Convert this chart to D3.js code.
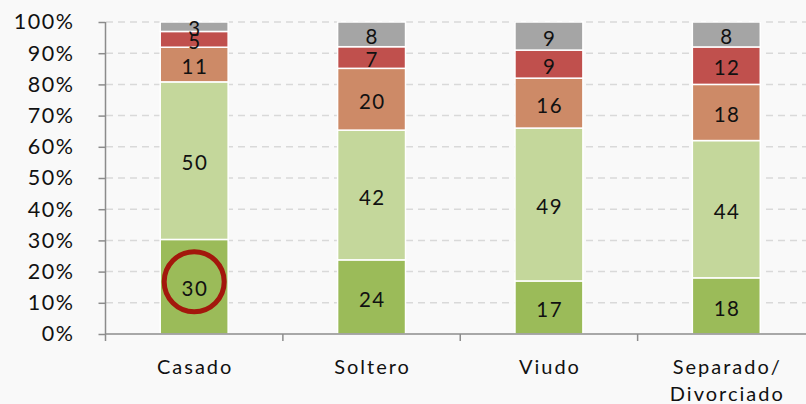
<!DOCTYPE html>
<html><head><meta charset="utf-8">
<script src="https://cdn.jsdelivr.net/npm/d3@7"></script>
<style>
html,body{margin:0;padding:0;background:#f9f9f9;}
svg{display:block;}
text{font-family:Lato,"Open Sans",sans-serif;fill:#111;}
</style></head>
<body>
<svg id="c" width="806" height="404"></svg>
<script>
const categories = ["Casado", "Soltero", "Viudo", "Separado/\nDivorciado"];
const seriesKeys = ["s1", "s2", "s3", "s4", "s5"];
const s1 = [30, 24, 17, 18];
const s2 = [50, 42, 49, 44];
const s3 = [11, 20, 16, 18];
const s4 = [5, 7, 9, 12];
const s5 = [3, 8, 9, 8];
const seriesColors = ["#9BBB59", "#C4D79B", "#CD8A67", "#C0504D", "#A5A5A5"];
const yTicks = [0, 0.1, 0.2, 0.3, 0.4, 0.5, 0.6, 0.7, 0.8, 0.9, 1];
const highlight = {category: "Casado", series: "s1"};

const seriesVals = [s1, s2, s3, s4, s5];
const table = categories.map((c, i) => {
  const row = {cat: c};
  seriesKeys.forEach((k, j) => row[k] = seriesVals[j][i]);
  return row;
});

const svg = d3.select("#c");
const x = d3.scaleBand().domain(categories).range([105.5, 815]).paddingInner(0.617).paddingOuter(0.3085);
const y = d3.scaleLinear().domain([0, 1]).range([334, 22]);
const color = d3.scaleOrdinal().domain(seriesKeys).range(seriesColors);

// gridlines
svg.append("g").selectAll("line").data(yTicks.filter(t => t > 0)).join("line")
  .attr("x1", 106).attr("x2", 806)
  .attr("y1", d => y(d)).attr("y2", d => y(d))
  .attr("stroke", "#d9d9d9").attr("stroke-width", 1.5).attr("stroke-dasharray", "7,5");

const stack = d3.stack().keys(seriesKeys).offset(d3.stackOffsetExpand);
const stacked = stack(table);

const g = svg.append("g");
stacked.forEach(s => {
  g.append("g").selectAll("rect").data(s).join("rect")
    .attr("x", d => x(d.data.cat))
    .attr("width", x.bandwidth())
    .attr("y", d => y(d[1]))
    .attr("height", d => y(d[0]) - y(d[1]))
    .attr("fill", color(s.key))
    .attr("stroke", "#fff").attr("stroke-width", 1.5);
});
stacked.forEach(s => {
  g.append("g").selectAll("text").data(s).join("text")
    .attr("x", d => x(d.data.cat) + x.bandwidth() / 2 + 0.75)
    .attr("y", d => (y(d[0]) + y(d[1])) / 2)
    .attr("dy", "0.47em")
    .attr("text-anchor", "middle")
    .style("font-size", "20.5px")
    .style("letter-spacing", "1.5px")
    .text(d => d.data[s.key]);
});

// highlight circle
const hs = stacked.find(s => s.key === highlight.series);
const hd = hs.find(d => d.data.cat === highlight.category);
svg.append("circle")
  .attr("cx", x(hd.data.cat) + x.bandwidth() / 2)
  .attr("cy", (y(hd[0]) + y(hd[1])) / 2 - 5)
  .attr("r", 30)
  .attr("fill", "none").attr("stroke", "#A3170C").attr("stroke-width", 5);

// y axis
const yAxis = svg.append("g").attr("transform", "translate(105.5,0)")
  .call(d3.axisLeft(y).tickValues(yTicks).tickFormat(d3.format(".0%")).tickSize(7).tickSizeOuter(0));
yAxis.select(".domain").attr("stroke", "#8c8c8c").attr("stroke-width", 1.5)
  .attr("d", `M0,${y(1)}V341`);
yAxis.selectAll(".tick line").attr("stroke", "#8c8c8c").attr("stroke-width", 1.5);
yAxis.selectAll(".tick text").attr("x", -31).style("font-size", "21.5px")
  .style("letter-spacing", "1.5px").style("font-family", "Lato").attr("fill", "#111");

// x axis
svg.append("line").attr("x1", 105.5).attr("x2", 806).attr("y1", 334).attr("y2", 334)
  .attr("stroke", "#8c8c8c").attr("stroke-width", 1.5);
const step = x.step();
svg.append("g").selectAll("line").data(categories.slice(1)).join("line")
  .attr("x1", d => x(d) - x.paddingInner() * step / 2)
  .attr("x2", d => x(d) - x.paddingInner() * step / 2)
  .attr("y1", 334).attr("y2", 341)
  .attr("stroke", "#8c8c8c").attr("stroke-width", 1.5);

const xl = svg.append("g").selectAll("text").data(categories).join("text")
  .attr("x", d => x(d) + x.bandwidth() / 2)
  .attr("y", 374)
  .attr("text-anchor", "middle")
  .style("font-size", "20px")
  .style("letter-spacing", "2px");
xl.each(function(d) {
  const lines = d.split("\n");
  const t = d3.select(this);
  lines.forEach((ln, i) => {
    t.append("tspan").attr("x", x(d) + x.bandwidth() / 2 + 1).attr("dy", i === 0 ? 0 : 27).text(ln);
  });
});
</script>
</body></html>
